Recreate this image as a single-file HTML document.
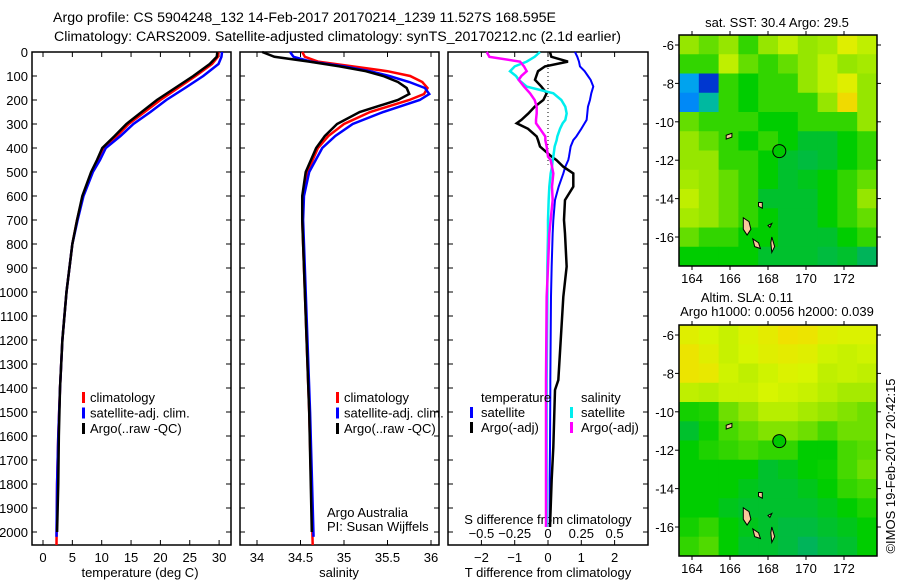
<!DOCTYPE html>
<html><head><meta charset="utf-8"><style>
html,body{margin:0;padding:0;background:#fff;}
svg{display:block;font-family:"Liberation Sans",Arial,sans-serif;}
text{fill:#000;}
</style></head><body>
<svg id="fig" width="900" height="580" viewBox="0 0 900 580"></svg>
<script>
// ---------- DATA ----------
const tDepth=[0,20,50,75,100,150,200,250,300,350,400,450,500,600,700,800,1000,1200,1400,1600,1800,2000];
const tClim=[29.9,29.8,28.8,27.4,26,23,20,17.3,14.6,12.6,10.3,9.4,8.3,6.8,5.8,5.0,4.0,3.3,2.9,2.6,2.4,2.3];
const tSat=[30.5,30.4,29.9,28.6,27.3,24.2,21,18.3,15.4,13.2,10.7,9.7,8.5,6.9,5.9,5.0,4.0,3.3,2.9,2.6,2.4,2.3];
const tArgo=[29.7,29.6,28.4,27,25.6,22.5,19.4,16.8,14.2,12.2,10.1,9.2,8.2,6.7,5.8,5.0,4.0,3.3,2.9,2.7,2.6,2.4];
const sDepth=[0,20,40,60,80,100,125,150,175,200,250,300,350,400,500,600,700,800,1000,1500,2000];
const sClim=[34.52,34.55,34.7,35.1,35.5,35.76,35.9,35.96,35.92,35.75,35.3,35.0,34.82,34.7,34.58,34.53,34.52,34.53,34.55,34.6,34.64];
const sSat=[34.38,34.42,34.62,35.0,35.3,35.52,35.75,35.93,35.98,35.87,35.45,35.1,34.9,34.75,34.6,34.54,34.53,34.54,34.56,34.61,34.65];
const sArgo=[34.06,34.2,34.6,34.95,35.25,35.45,35.62,35.72,35.75,35.62,35.18,34.92,34.78,34.68,34.56,34.52,34.52,34.53,34.55,34.6,34.63];
const dDepth=[0,20,40,60,80,100,116,144,172,200,228,256,283,297,320,352,367,394,436,450,478,506,561,617,700,756,894,1020,1367,1408,1646,1783,1979];
const dTsat=[0.81,0.88,0.93,0.96,1.1,1.2,1.28,1.36,1.3,1.26,1.2,1.18,1.16,1.1,1.0,0.85,0.76,0.68,0.63,0.61,0.52,0.46,0.32,0.21,0.16,0.14,0.11,0.09,0.07,0.07,0.06,0.05,0.05];
const dTargo=[0.06,0.1,0.6,-0.09,-0.3,-0.35,-0.39,-0.2,-0.04,-0.14,-0.4,-0.59,-0.8,-0.94,-0.6,-0.34,-0.3,-0.24,0.11,0.25,0.46,0.76,0.76,0.51,0.48,0.51,0.56,0.46,0.31,0.21,0.16,0.11,0.06];
const dSsat=[-0.06,-0.1,-0.16,-0.25,-0.285,-0.24,-0.22,-0.16,0.04,0.1,0.13,0.14,0.13,0.11,0.09,0.07,0.065,0.05,0.04,0.035,0.03,0.02,0.01,0.005,0.0,0.0,-0.005,-0.005,-0.01,-0.01,-0.01,-0.01,-0.01];
const dSargo=[-0.46,-0.44,-0.21,-0.18,-0.16,-0.2,-0.22,-0.18,-0.135,-0.1,-0.085,-0.085,-0.09,-0.09,-0.06,-0.02,-0.02,-0.01,0.0,0.02,0.03,0.04,0.03,0.035,0.02,0.01,0.0,-0.01,-0.015,-0.015,-0.015,-0.015,-0.015];
const depthTicks=[0,100,200,300,400,500,600,700,800,900,1000,1100,1200,1300,1400,1500,1600,1700,1800,1900,2000];
const tTicks=[0,5,10,15,20,25,30];
const sTicks=[34,34.5,35,35.5,36];
const dTTicks=[-2,-1,0,1,2];
const dSTicks=[-0.5,-0.25,0,0.25,0.5];
const dSTickLabels=["\u22120.5","\u22120.25","0","0.25","0.5"];
const dTTickLabels=["\u22122","\u22121","0","1","2"];
const lonTicks=[164,166,168,170,172];
const latTicks=[-6,-8,-10,-12,-14,-16];
const sstGrid=[
[.7,.65,.7,.6,.7,.75,.7,.72,.8,.75],
[.6,.6,.75,.65,.6,.65,.7,.75,.7,.72],
[.3,.1,.6,.55,.6,.6,.7,.75,.8,.7],
[.25,.4,.6,.55,.6,.6,.6,.7,.85,.7],
[.65,.6,.6,.6,.55,.55,.6,.6,.6,.7],
[.7,.65,.6,.55,.6,.55,.5,.5,.55,.6],
[.7,.7,.6,.6,.55,.5,.48,.5,.55,.6],
[.72,.7,.65,.6,.55,.5,.52,.55,.6,.65],
[.75,.7,.65,.6,.5,.5,.5,.55,.6,.7],
[.72,.7,.65,.6,.55,.5,.5,.55,.6,.65],
[.65,.6,.6,.55,.55,.5,.5,.5,.55,.6],
[.55,.55,.55,.55,.5,.5,.5,.48,.5,.45]];
const slaGrid=[
[.8,.78,.76,.79,.81,.84,.83,.8,.79,.79],
[.83,.8,.76,.78,.8,.81,.8,.77,.76,.77],
[.83,.82,.77,.75,.77,.79,.78,.75,.76,.75],
[.75,.74,.76,.76,.78,.77,.76,.74,.72,.72],
[.57,.58,.66,.7,.74,.74,.72,.7,.68,.66],
[.5,.56,.62,.65,.68,.68,.66,.62,.66,.66],
[.55,.58,.6,.62,.6,.6,.55,.55,.62,.64],
[.55,.55,.55,.55,.5,.52,.55,.56,.62,.66],
[.55,.55,.55,.52,.5,.5,.52,.55,.6,.62],
[.55,.55,.52,.5,.5,.5,.5,.52,.55,.58],
[.57,.6,.55,.52,.5,.48,.48,.5,.52,.55],
[.6,.63,.55,.5,.5,.48,.45,.48,.5,.55]];
const argoLon=168.595, argoLat=-11.527;
const islands=[
[[166.7,-15.0],[167.0,-15.2],[167.1,-15.6],[166.9,-15.9],[166.7,-15.6]],
[[167.2,-16.1],[167.5,-16.3],[167.6,-16.6],[167.3,-16.5]],
[[167.5,-14.2],[167.7,-14.2],[167.7,-14.5],[167.5,-14.4]],
[[165.8,-10.7],[166.1,-10.6],[166.1,-10.8],[165.8,-10.9]],
[[168.0,-15.4],[168.2,-15.3],[168.1,-15.5]],
[[168.2,-16.0],[168.35,-16.5],[168.2,-16.8],[168.15,-16.3]]];

// ---------- HELPERS ----------
const NS="http://www.w3.org/2000/svg";
const svg=document.getElementById('fig');
function mk(tag,attrs,parent){const e=document.createElementNS(NS,tag);for(const k in attrs)e.setAttribute(k,attrs[k]);(parent||svg).appendChild(e);return e;}
function txt(x,y,s,anchor,size,parent){const e=mk('text',{x:x,y:y,'text-anchor':anchor||'start','font-size':size||13},parent);e.textContent=s;return e;}
function grp(name){const g=mk('g',{});return g;}

const Y0=52, Y1=545, DMAX=(Y1-Y0)/0.24;
const yD=d=>Y0+d*0.24;

function frame(x0,x1,name){
  const g=grp(name);
  mk('rect',{x:x0,y:Y0,width:x1-x0,height:Y1-Y0,fill:'none',stroke:'#000','stroke-width':1.5},g);
  depthTicks.forEach(d=>{mk('line',{x1:x0,x2:x0+5,y1:yD(d),y2:yD(d),stroke:'#000'},g);mk('line',{x1:x1-5,x2:x1,y1:yD(d),y2:yD(d),stroke:'#000'},g);});
  return g;
}
function poly(g,xs,ds,xf,color,name,w){
  const p=mk('polyline',{points:xs.map((v,i)=>xf(v)+','+yD(ds[i])).join(' '),fill:'none',stroke:color,'stroke-width':w||2.5,'stroke-linejoin':'miter'},g);
  
  
}

const tg=grp('figure-title');
txt(53,22,'Argo profile: CS 5904248_132 14-Feb-2017 20170214_1239 11.527S 168.595E','start',14.2,tg);
txt(54,41,'Climatology: CARS2009. Satellite-adjusted climatology: synTS_20170212.nc (2.1d earlier)','start',14.2,tg);

// ---------- PANEL 1 ----------
const xT=t=>43+t*5.87;
const g1=frame(32,231,'temperature-panel');
const yl=grp('depth-axis-labels');
depthTicks.forEach(d=>txt(28,yD(d)+5,String(d),'end',13,yl));
tTicks.forEach(t=>{mk('line',{x1:xT(t),x2:xT(t),y1:Y1,y2:Y1-5,stroke:'#000'},g1);mk('line',{x1:xT(t),x2:xT(t),y1:Y0,y2:Y0+5,stroke:'#000'},g1);txt(xT(t),562,String(t),'middle',13,g1);});
txt(140,577,'temperature (deg C)','middle',13,g1);
poly(g1,tClim,tDepth.map(d=>d===2000?DMAX:d),xT,'#ff0000','temperature-climatology-line');
poly(g1,tSat,tDepth.map(d=>d===2000?2020:d),xT,'#0000ff','temperature-satellite-line');
poly(g1,tArgo,tDepth,xT,'#000','temperature-argo-line');
const lg1=grp('temperature-legend');
[['#f00','climatology'],['#00f','satellite-adj. clim.'],['#000','Argo(..raw -QC)']].forEach((r,i)=>{mk('rect',{x:82,y:392+i*15.5,width:3,height:11,fill:r[0]},lg1);txt(90,402+i*15.5,r[1],'start',13,lg1);});

// ---------- PANEL 2 ----------
const xS=s=>257+(s-34)*87;
const g2=frame(240,439,'salinity-panel');
sTicks.forEach(s=>{mk('line',{x1:xS(s),x2:xS(s),y1:Y1,y2:Y1-5,stroke:'#000'},g2);mk('line',{x1:xS(s),x2:xS(s),y1:Y0,y2:Y0+5,stroke:'#000'},g2);txt(xS(s),562,String(s),'middle',13,g2);});
txt(339,577,'salinity','middle',13,g2);
poly(g2,sClim,sDepth.map(d=>d===2000?DMAX:d),xS,'#ff0000','salinity-climatology-line');
poly(g2,sSat,sDepth.map(d=>d===2000?2020:d),xS,'#0000ff','salinity-satellite-line');
poly(g2,sArgo,sDepth,xS,'#000','salinity-argo-line');
const lg2=grp('salinity-legend');
[['#f00','climatology'],['#00f','satellite-adj. clim.'],['#000','Argo(..raw -QC)']].forEach((r,i)=>{mk('rect',{x:336,y:392+i*15.5,width:3,height:11,fill:r[0]},lg2);txt(344,402+i*15.5,r[1],'start',13,lg2);});
const cr=grp('argo-credit');
txt(327,517,'Argo Australia','start',13,cr);
txt(327,531,'PI: Susan Wijffels','start',13,cr);

// ---------- PANEL 3 ----------
const xdT=v=>548+v*33.3;
const xdS=v=>548+v*133.2;
const g3=frame(448,648,'difference-panel');
mk('line',{x1:xdT(0),x2:xdT(0),y1:Y0,y2:yD(470),stroke:'#000','stroke-dasharray':'1,3'},g3);
dTTicks.forEach((t,i)=>{mk('line',{x1:xdT(t),x2:xdT(t),y1:Y1,y2:Y1-5,stroke:'#000'},g3);mk('line',{x1:xdT(t),x2:xdT(t),y1:Y0,y2:Y0+5,stroke:'#000'},g3);txt(xdT(t),562,dTTickLabels[i],'middle',13,g3);});
txt(548,577,'T difference from climatology','middle',13,g3);
dSTicks.forEach((s,i)=>txt(xdS(s),538,dSTickLabels[i],'middle',13,g3));
txt(548,524,'S difference from climatology','middle',13,g3);
poly(g3,dTsat,dDepth,xdT,'#0000ff','t-diff-satellite-line',2);
poly(g3,dTargo,dDepth,xdT,'#000','t-diff-argo-line',2.5);
poly(g3,dSsat,dDepth,xdS,'#00eeee','s-diff-satellite-line',2.5);
poly(g3,dSargo,dDepth,xdS,'#ff00ff','s-diff-argo-line',2.5);
const lg3=grp('difference-legend');
txt(481,402,'temperature','start',13,lg3);
mk('rect',{x:470,y:407,width:3,height:11,fill:'#00f'},lg3);txt(481,417,'satellite','start',13,lg3);
mk('rect',{x:470,y:422,width:3,height:11,fill:'#000'},lg3);txt(481,432,'Argo(-adj)','start',13,lg3);
txt(581,402,'salinity','start',13,lg3);
mk('rect',{x:570,y:407,width:3,height:11,fill:'#00eeee'},lg3);txt(581,417,'satellite','start',13,lg3);
mk('rect',{x:570,y:422,width:3,height:11,fill:'#ff00ff'},lg3);txt(581,432,'Argo(-adj)','start',13,lg3);

// ---------- MAPS ----------
const stops=[[0,[0,0,160]],[0.2,[0,110,255]],[0.35,[0,190,230]],[0.45,[0,180,90]],[0.55,[0,205,0]],[0.7,[150,230,0]],[0.78,[215,245,0]],[0.84,[240,225,0]],[0.9,[240,180,0]],[1,[180,0,0]]];
function cmap(v){for(let i=1;i<stops.length;i++){if(v<=stops[i][0]){const a=stops[i-1],b=stops[i];const f=(v-a[0])/(b[0]-a[0]);const c=a[1].map((x,k)=>Math.round(x+(b[1][k]-x)*f));return 'rgb('+c.join(',')+')';}}return 'rgb(180,0,0)';}
function drawMap(top,grid,name){
  const L=679,R=877,T=top,B=top+231;
  const xL=lon=>692+(lon-164)*19;
  const yL=lat=>top+10+(-6-lat)*19.2;
  const g=grp(name);
  const rows=grid.length, cols=grid[0].length;
  const cw=(R-L)/cols, ch=(B-T)/rows;
  grid.forEach((row,r)=>row.forEach((v,c)=>{
    const cell=mk('rect',{x:L+c*cw,y:T+r*ch,width:cw+0.5,height:ch+0.5,fill:cmap(v)},g);
    
    
  }));
  islands.forEach(p=>{const e=mk('polygon',{points:p.map(q=>xL(q[0])+','+yL(q[1])).join(' '),fill:'#f8c89a',stroke:'#000','stroke-width':1},g);});
  const m=mk('circle',{cx:xL(argoLon),cy:yL(argoLat),r:6.5,fill:'#00c800',stroke:'#000','stroke-width':1},g);
  
  
  mk('rect',{x:L,y:T,width:R-L,height:B-T,fill:'none',stroke:'#000','stroke-width':1.5},g);
  lonTicks.forEach(lon=>{mk('line',{x1:xL(lon),x2:xL(lon),y1:B,y2:B+4,stroke:'#000'},g);mk('line',{x1:xL(lon),x2:xL(lon),y1:T,y2:T-4,stroke:'#000'},g);txt(xL(lon),B+17,String(lon),'middle',13,g);});
  latTicks.forEach(lat=>{mk('line',{x1:L,x2:L-4,y1:yL(lat),y2:yL(lat),stroke:'#000'},g);mk('line',{x1:R,x2:R+4,y1:yL(lat),y2:yL(lat),stroke:'#000'},g);txt(674,yL(lat)+5,'-'+Math.abs(lat),'end',13,g);});
  return g;
}
const m1=drawMap(35,sstGrid,'sst-map');
txt(777,27,'sat. SST: 30.4  Argo: 29.5','middle',13,m1);
const m2=drawMap(325,slaGrid,'sla-map');
txt(747,302,'Altim. SLA: 0.11','middle',13,m2);
txt(777,316,'Argo h1000: 0.0056 h2000: 0.039','middle',13,m2);
const cp=txt(0,0,'\u00A9IMOS 19-Feb-2017 20:42:15','middle',13);
cp.setAttribute('transform','translate(895,466) rotate(-90)');


</script>
</body></html>
